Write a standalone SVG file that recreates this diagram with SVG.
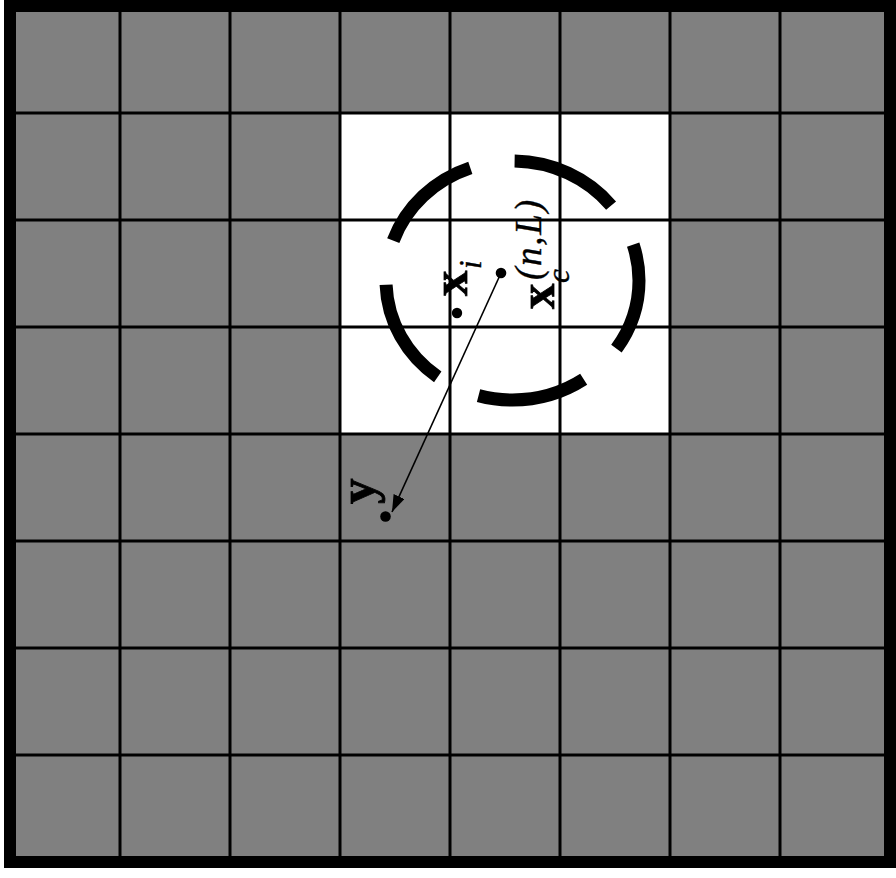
<svg xmlns="http://www.w3.org/2000/svg" width="896" height="878" viewBox="0 0 896 878">
  <style>
    .grid line { stroke: #000; stroke-width: 3; }
    .bold { font-family: "Liberation Serif", "Times New Roman", serif; font-weight: bold; fill: #000; stroke: #000; stroke-width: 0.8; }
    .ital { font-family: "Liberation Serif", "Times New Roman", serif; font-style: italic; fill: #000; stroke: #000; stroke-width: 0.4; }
    .dot { fill: #000; }
  </style>
  <defs>
    <marker id="arrow" viewBox="0 0 17 12" refX="17" refY="6" markerWidth="17" markerHeight="12" markerUnits="userSpaceOnUse" orient="auto">
      <polygon points="0,0 17,6 0,12" fill="#000"/>
    </marker>
  </defs>
  <rect x="0" y="0" width="896" height="878" fill="#fff"/>
  <g id="board">
    <rect x="10" y="6" width="880" height="856" fill="#808080"/>
    <rect x="340" y="113" width="330" height="321" fill="#fff"/>
  </g>
  <g id="grid" class="grid">
    <line x1="120" y1="6" x2="120" y2="862"/>
    <line x1="230" y1="6" x2="230" y2="862"/>
    <line x1="340" y1="6" x2="340" y2="862"/>
    <line x1="450" y1="6" x2="450" y2="862"/>
    <line x1="560" y1="6" x2="560" y2="862"/>
    <line x1="670" y1="6" x2="670" y2="862"/>
    <line x1="780" y1="6" x2="780" y2="862"/>
    <line x1="10" y1="113" x2="890" y2="113"/>
    <line x1="10" y1="220" x2="890" y2="220"/>
    <line x1="10" y1="327" x2="890" y2="327"/>
    <line x1="10" y1="434" x2="890" y2="434"/>
    <line x1="10" y1="541" x2="890" y2="541"/>
    <line x1="10" y1="648" x2="890" y2="648"/>
    <line x1="10" y1="755" x2="890" y2="755"/>
  </g>
  <rect id="frame" x="10" y="6" width="880" height="856" fill="none" stroke="#000" stroke-width="12"/>
  <g id="neighbourhood">
    <ellipse cx="512.5" cy="280.5" rx="126.5" ry="119.5" fill="none" stroke="#000" stroke-width="13" pathLength="360" stroke-dasharray="51 21" stroke-dashoffset="17"/>
  </g>
  <g id="connectors">
    <line x1="501" y1="273" x2="392" y2="512" stroke="#000" stroke-width="1.6" marker-end="url(#arrow)"/>
  </g>
  <g id="node-xc">
    <circle class="dot" cx="501" cy="273" r="5.3"/>
    <g transform="translate(554,309) rotate(-90)">
      <text class="bold" x="0" y="0" font-size="51">x</text>
      <text class="ital" x="26" y="15" font-size="31">c</text>
      <text class="ital" x="29" y="-13" font-size="37" textLength="80" lengthAdjust="spacing">(n,L)</text>
    </g>
  </g>
  <g id="node-xi">
    <circle class="dot" cx="457" cy="313" r="5.2"/>
    <g transform="translate(467,296) rotate(-90)">
      <text class="bold" x="0" y="0" font-size="51">x</text>
      <text class="ital" x="27" y="14" font-size="31">i</text>
    </g>
  </g>
  <g id="node-y">
    <circle class="dot" cx="385.5" cy="516.5" r="5.3"/>
    <g transform="translate(374,504) rotate(-90)">
      <text class="bold" x="0" y="0" font-size="51">y</text>
    </g>
  </g>
</svg>
